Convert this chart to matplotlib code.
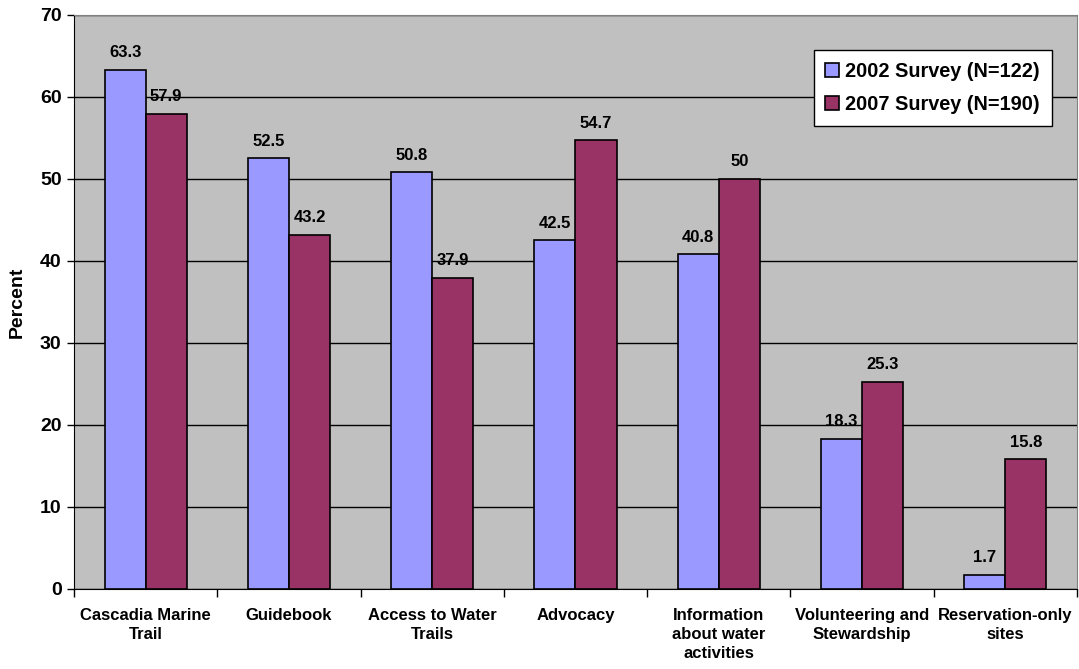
import matplotlib.pyplot as plt
import numpy as np

categories = ["Cascadia Marine\nTrail", "Guidebook", "Access to Water\nTrails", "Advocacy",
              "Information\nabout water\nactivities", "Volunteering and\nStewardship",
              "Reservation-only\nsites"]
survey_2002 = [63.3, 52.5, 50.8, 42.5, 40.8, 18.3, 1.7]
survey_2007 = [57.9, 43.2, 37.9, 54.7, 50, 25.3, 15.8]
series_names = ["2002 Survey (N=122)", "2007 Survey (N=190)"]

plt.rcParams['font.family'] = ['Liberation Sans', 'DejaVu Sans']
plt.rcParams['font.weight'] = 'bold'

fig = plt.figure(figsize=(10.79, 6.69), dpi=100)
ax = fig.add_axes([0.0686, 0.1196, 0.9295, 0.858])
ax.set_facecolor('#C0C0C0')

x = np.arange(len(categories))
w = 0.287
b1 = ax.bar(x - w / 2, survey_2002, w, color='#9999FF', edgecolor='black', linewidth=1.2,
            label=series_names[0], zorder=3)
b2 = ax.bar(x + w / 2, survey_2007, w, color='#993366', edgecolor='black', linewidth=1.2,
            label=series_names[1], zorder=3)

for bars, vals in ((b1, survey_2002), (b2, survey_2007)):
    for r, v in zip(bars, vals):
        ax.annotate('{:g}'.format(v), (r.get_x() + r.get_width() / 2, v),
                    xytext=(0, 7), textcoords='offset points', ha='center', va='bottom',
                    fontsize=12, fontweight='bold', zorder=4)

ax.set_xlim(-0.5, len(categories) - 0.5)
ax.set_ylim(0, 70)
ax.set_yticks(range(0, 71, 10))
ax.yaxis.grid(True, color='black', linewidth=1)
ax.set_axisbelow(True)
ax.tick_params(axis='y', labelsize=14, length=5, width=1, pad=4)

ax.set_xticks(x)
ax.set_xticklabels(categories, fontsize=12, fontweight='bold', linespacing=1.3)
ax.tick_params(axis='x', length=0, pad=14)
ax.set_xticks(np.arange(len(categories) + 1) - 0.5, minor=True)
ax.tick_params(axis='x', which='minor', length=6, width=1)

for s in ('top', 'right'):
    ax.spines[s].set_color('#808080')
ax.spines['left'].set_color('black')
ax.spines['bottom'].set_color('black')

ax.set_ylabel('Percent', fontsize=14, fontweight='bold', labelpad=10)

leg = ax.legend(loc='upper right', bbox_to_anchor=(0.975, 0.939), borderaxespad=0,
                fontsize=14.3, frameon=True, fancybox=False, handlelength=0.7,
                handleheight=0.7, handletextpad=0.3, borderpad=0.6, labelspacing=0.7)
leg.get_frame().set_edgecolor('black')
leg.get_frame().set_facecolor('white')
leg.get_frame().set_alpha(1)
leg.set_zorder(5)
for t in leg.get_texts():
    t.set_fontweight('bold')

fig.savefig('out.png', dpi=100)
